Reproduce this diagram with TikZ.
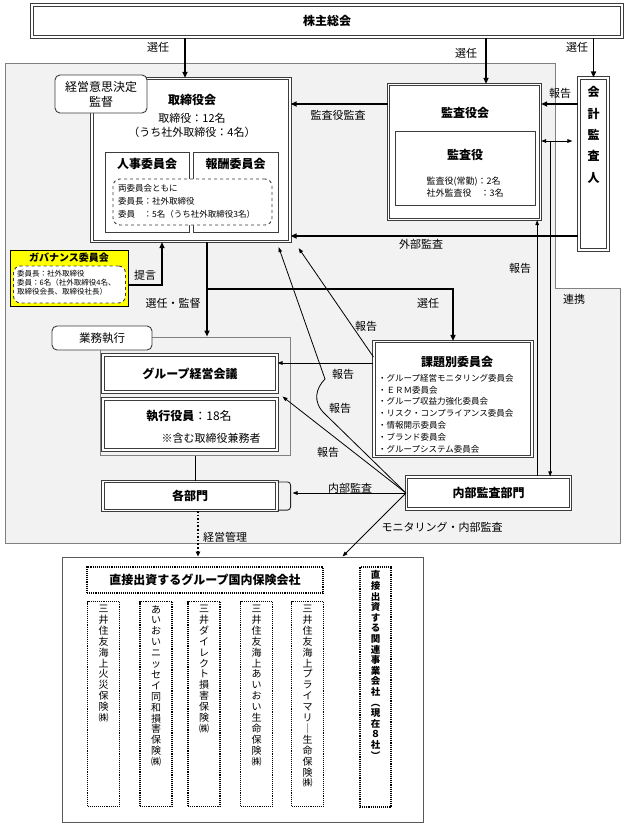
\documentclass[tikz,border=0pt]{standalone}
\usepackage{fontspec}
\setmainfont{Noto Sans CJK JP}
\usepackage{tikz}
\usetikzlibrary{arrows.meta,positioning}
\usepackage{xcolor}
\definecolor{Haikei}{RGB}{242,242,242}
\definecolor{Kiiro}{RGB}{255,255,0}
\definecolor{Waku}{RGB}{60,60,60}

\makeatletter
\newcommand\tate[1]{%
  \edef\tate@arg{#1}%
  \def\tate@acc{}\def\tate@sep{}%
  \expandafter\@tfor\expandafter\tate@c\expandafter:\expandafter=\tate@arg\do{%
    \edef\tate@acc{\unexpanded\expandafter{\tate@acc}\unexpanded\expandafter{\tate@sep}\unexpanded\expandafter{\tate@c}}%
    \def\tate@sep{\\}}%
  \tate@acc}
\makeatother

\tikzset{
  nijuu/.style={draw=Waku, line width=1.1pt, double=white, double distance=1.1pt, fill=white, inner sep=0pt},
  futonijuu/.style={draw=Waku, line width=1.3pt, double=white, double distance=1.2pt, fill=white, inner sep=0pt},
  hitoe/.style={draw=Waku, line width=0.9pt, fill=white, inner sep=0pt},
  maru/.style={draw=Waku, line width=0.9pt, fill=white, rounded corners=5pt, inner sep=0pt},
  hasen/.style={draw=Waku, line width=0.9pt, dashed, fill=white, rounded corners=7pt, inner sep=0pt},
  tenten/.style={draw=black, line width=1.1pt, densely dotted, inner sep=0pt},
  futoya/.style={line width=1.5pt, -{Triangle[length=6pt,width=5pt]}},
  hosoya/.style={line width=0.8pt, -{Triangle[length=5pt,width=3.6pt]}},
  ryouya/.style={line width=0.8pt, {Triangle[length=5pt,width=3.6pt]}-{Triangle[length=5pt,width=3.6pt]}},
  tenya/.style={line width=1.6pt, dotted, -{Triangle[length=5pt,width=4.5pt]}},
  midashi/.style={font=\fontsize{12}{14}\selectfont\bfseries},
  ranberu/.style={font=\fontsize{11}{13}\selectfont, inner sep=1pt},
  komoji/.style={inner sep=0pt, align=left},
  tatemoji/.style={align=center, inner sep=0pt, font={\fontsize{10}{10.9}\selectfont\lineskiplimit=-20pt}},
}

\begin{document}
\begin{tikzpicture}[x=1pt,y=-1pt]
\useasboundingbox (0,0) rectangle (627,830);
% 社内の範囲
\draw[gray, fill=Haikei, line width=1pt] (5,63) -- (555,63) -- (555,288) -- (620,288) -- (620,543) -- (5,543) -- cycle;
%
\node[nijuu, midashi, minimum width=590, minimum height=32] (soukai) at (327,21) {株主総会};
%
% 取締役会
\node[futonijuu, minimum width=198, minimum height=163] (torishimari) at (191,160) {};
\node[midashi] (torishimari-t) at (192,100) {取締役会};
\node[align=center, font=\fontsize{11}{14}\selectfont] (torishimari-n) at (192,125) {取締役：12名\\（うち社外取締役：4名）};
\node[hitoe, minimum width=84, minimum height=80] (jinji) at (147,192) {};
\node[hitoe, minimum width=85, minimum height=80] (houshu) at (235.5,192) {};
\node[midashi] (jinji-t) at (147,164) {人事委員会};
\node[midashi] (houshu-t) at (235.5,164) {報酬委員会};
\node[hasen, minimum width=159, minimum height=46] (ryouiinkai) at (192.5,202) {};
\node[komoji, anchor=north west, font=\fontsize{8.5}{13}\selectfont] (ryouiinkai-t) at (118,184) {両委員会ともに\\委員長：社外取締役\\委員　：5名（うち社外取締役3名）};
\node[maru, align=center, font=\fontsize{12}{15}\selectfont, minimum width=92, minimum height=38] (ishikettei) at (101,94) {経営意思決定\\監督};
%
% 監査役会
\node[futonijuu, minimum width=152, minimum height=135] (kansayakukai) at (464.5,152) {};
\node[midashi] (kansayakukai-t) at (465,113) {監査役会};
\node[hitoe, minimum width=140, minimum height=74] (kansayaku) at (465,168) {};
\node[midashi] (kansayaku-t) at (465,155) {監査役};
\node[komoji, font=\fontsize{9}{12}\selectfont] (kansayaku-n) at (465,187) {監査役(常勤)：2名\\社外監査役　：3名};
%
% 会計監査人
\node[nijuu, minimum width=29, minimum height=172] (kaikei) at (593.5,164) {};
\node[tatemoji, font={\fontsize{12}{21.3}\selectfont\bfseries\lineskiplimit=-20pt}, below=9pt of kaikei.north] (kaikei-t) {\tate{会計監査人}};
%
% ガバナンス委員会
\node[draw=black, fill=Kiiro, line width=1pt, minimum width=118, minimum height=56, inner sep=0pt] (governance) at (69,278) {};
\node[font=\fontsize{10}{12}\selectfont\bfseries] (governance-t) at (69,258) {ガバナンス委員会};
\node[hasen, minimum width=112, minimum height=37] (governance-w) at (69.5,284.5) {};
\node[komoji, anchor=north west, font=\fontsize{7.5}{9}\selectfont] (governance-n) at (17,270) {委員長：社外取締役\\委員：6名（社外取締役4名、\\取締役会長、取締役社長）};
%
% 業務執行
\node[draw=gray, fill=Haikei, line width=1pt, minimum width=190, minimum height=118, inner sep=0pt] (gyomuarea) at (195,396) {};
\node[maru, font=\fontsize{11.5}{13}\selectfont, minimum width=100, minimum height=24] (gyomu) at (102,338) {業務執行};
\node[nijuu, midashi, minimum width=174, minimum height=37] (keieikaigi) at (190,373.5) {グループ経営会議};
\node[nijuu, minimum width=174, minimum height=51] (shikkou) at (190,424.5) {};
\node[font=\fontsize{12}{14}\selectfont] (shikkou-t) at (189,416) {\textbf{執行役員}：18名};
\node[font=\fontsize{11}{13}\selectfont] (shikkou-n) at (211,438) {※含む取締役兼務者};
\node[nijuu, midashi, minimum width=174, minimum height=29] (kakubumon) at (190,496) {各部門};
%
% 課題別委員会
\node[nijuu, minimum width=158, minimum height=115] (kadai) at (453,399) {};
\node[midashi] (kadai-t) at (457,362) {課題別委員会};
\node[komoji, anchor=north west, font=\fontsize{8.5}{11.8}\selectfont] (kadai-n) at (378,374) {・グループ経営モニタリング委員会\\・ＥＲＭ委員会\\・グループ収益力強化委員会\\・リスク・コンプライアンス委員会\\・情報開示委員会\\・ブランド委員会\\・グループシステム委員会};
%
\node[nijuu, midashi, minimum width=164, minimum height=32] (naibu) at (488.5,493) {内部監査部門};
%
% 子会社
\node[draw=gray!70!black, fill=white, line width=1pt, minimum width=361, minimum height=265, inner sep=0pt] (kogaisha) at (242.5,689.5) {};
\node[tenten, midashi, minimum width=236, minimum height=26] (kokunai) at (205,580) {直接出資するグループ国内保険会社};
\node[tenten, minimum width=32, minimum height=205] (hoken1) at (103.5,704) {};
\node[tenten, minimum width=32, minimum height=205] (hoken2) at (156,704) {};
\node[tenten, minimum width=32, minimum height=205] (hoken3) at (204,704) {};
\node[tenten, minimum width=32, minimum height=205] (hoken4) at (256.5,704) {};
\node[tenten, minimum width=32, minimum height=205] (hoken5) at (307.5,704) {};
\node[tatemoji, below=4pt of hoken1.north] (hoken1-t) {\tate{三井住友海上火災保険㈱}};
\node[tatemoji, below=4pt of hoken2.north] (hoken2-t) {\tate{あいおいニッセイ同和損害保険㈱}};
\node[tatemoji, below=4pt of hoken3.north] (hoken3-t) {\tate{三井ダイレクト損害保険㈱}};
\node[tatemoji, below=4pt of hoken4.north] (hoken4-t) {\tate{三井住友海上あいおい生命保険㈱}};
\node[tatemoji, below=4pt of hoken5.north] (hoken5-t) {\tate{三井住友海上プライマリ｜生命保険㈱}};
\node[tenten, minimum width=31, minimum height=240] (kanren) at (375.5,687) {};
\node[tatemoji, font={\fontsize{9.5}{10.6}\selectfont\bfseries\lineskiplimit=-20pt}, below=4pt of kanren.north] (kanren-t) {\tate{直接出資する関連事業会社︵現在８社︶}};
%
% 矢印
\coordinate (sen1) at ([xshift=-6pt]torishimari.north);
\coordinate (sen2) at ([xshift=21.5pt]kansayakukai.north);
\draw[futoya] (soukai.south -| sen1) -- (sen1);
\draw[futoya] (soukai.south -| sen2) -- (sen2);
\draw[futoya] (soukai.south -| kaikei.north) -- (kaikei.north);
\coordinate (kansa1) at ([yshift=48pt]kansayakukai.west);
\draw[futoya] (kansa1) -- (kansa1 -| torishimari.east);
\draw[futoya] (kaikei.west |- kansa1) -- (kansa1 -| kansayakukai.east);
\coordinate (gaibu) at ([yshift=-72pt]kaikei.west);
\draw[futoya] (gaibu) -- (gaibu -| torishimari.east);
\coordinate (renkei) at ([yshift=11pt]kansayakukai.east);
\coordinate (renkei-b) at ([xshift=9pt]renkei);
\draw[ryouya, shorten >=6pt] (renkei) -- (renkei -| kaikei.west);
\draw[hosoya] (renkei-b) -- (renkei-b |- naibu.north);
\coordinate (hk-kansa) at ([xshift=-4pt]kansayakukai.south east);
\draw[hosoya] (hk-kansa |- naibu.north) -- (hk-kansa);
\coordinate (teigen-s) at ([yshift=-7pt]governance.east);
\coordinate (teigen) at ([xshift=-29pt]torishimari.south);
\draw[futoya] (teigen-s) -| (teigen);
\coordinate (kantoku) at ([xshift=16pt]torishimari.south);
\coordinate (bunki) at ([yshift=-47pt]kantoku);
\draw[futoya] (kantoku) -- (kantoku |- gyomuarea.north);
\draw[futoya] (bunki) -| (kadai.north);
\coordinate (kd1) at ([yshift=36pt]kadai.west);
\draw[hosoya] (kd1) -- (kd1 -| keieikaigi.east);
\draw[hosoya] ([yshift=-16pt]kadai.north west) -- ([xshift=8pt,yshift=-6pt]torishimari.south east);
\coordinate (w1) at (325,414);
\coordinate (w2) at (325,379);
\draw[hosoya] (naibu.west) -- (w1) .. controls (312,402) and (316,388) .. (w2) -- ([xshift=-12pt,yshift=-5pt]torishimari.south east);
\draw[hosoya] (naibu.west) -- ([xshift=5pt,yshift=-4pt]keieikaigi.south east);
\draw[gray!30!black, line width=0.9pt, rounded corners=3pt] ([yshift=-1pt]kakubumon.north east) -- ++(13,0) |- ([yshift=1pt]kakubumon.south east);
\coordinate (kagi) at ([xshift=15pt]kakubumon.east);
\draw[hosoya] (naibu.west) -- (naibu.west -| kagi);
\draw[line width=1pt] (gyomuarea.south) -- (gyomuarea.south |- kakubumon.north);
\coordinate (kanri) at ([xshift=8pt]kakubumon.south);
\draw[tenya] (kanri) -- (kanri |- kogaisha.north);
\coordinate (monitor) at ([xshift=100pt]kogaisha.north);
\draw[hosoya] (naibu.west) -- (monitor);
%
% ラベル
\node[ranberu] (l-sennin1) at (158,47) {選任};
\node[ranberu] (l-sennin2) at (466,53) {選任};
\node[ranberu] (l-sennin3) at (577,47) {選任};
\node[ranberu] (l-kansa) at (338,115) {監査役監査};
\node[ranberu] (l-houkoku1) at (560,93) {報告};
\node[ranberu] (l-gaibu) at (421,244) {外部監査};
\node[ranberu] (l-houkoku2) at (520,268) {報告};
\node[ranberu] (l-renkei) at (574,299) {連携};
\node[ranberu] (l-teigen) at (145,275) {提言};
\node[ranberu] (l-kantoku) at (173,303) {選任・監督};
\node[ranberu] (l-sennin4) at (428,303) {選任};
\node[ranberu] (l-houkoku3) at (366,326) {報告};
\node[ranberu] (l-houkoku4) at (343,374) {報告};
\node[ranberu] (l-houkoku5) at (340,408) {報告};
\node[ranberu] (l-houkoku6) at (328,452) {報告};
\node[ranberu] (l-naibu) at (350,488) {内部監査};
\node[ranberu] (l-kanri) at (225,537) {経営管理};
\node[ranberu] (l-monitor) at (442,527) {モニタリング・内部監査};
\end{tikzpicture}
\end{document}
